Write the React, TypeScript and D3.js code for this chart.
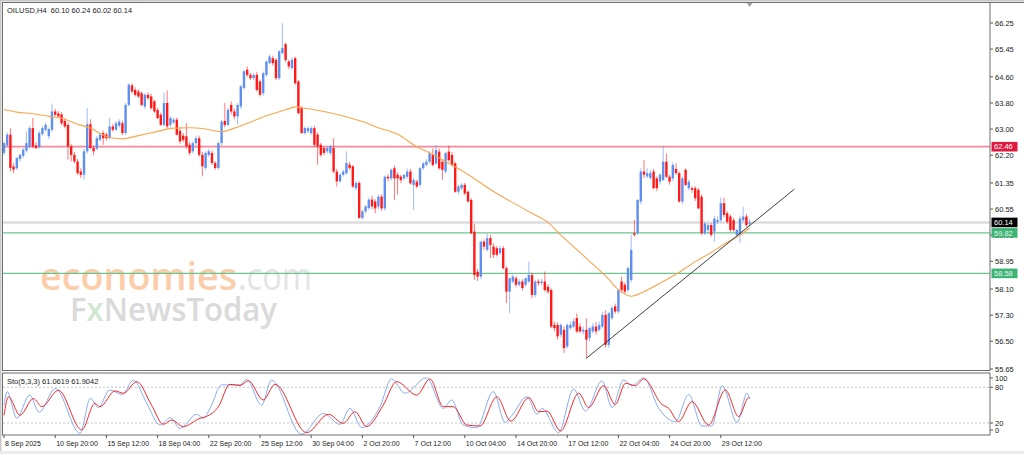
import React, { useEffect, useRef } from "react";
import * as d3 from "d3";

// H4 bars, [open, high, low, close]
const ohlc: [number, number, number, number][] = [
  [62.27, 62.62, 62.2, 62.57], [62.5, 62.9, 62.45, 62.83], [62.83, 63.03, 61.7, 61.81], [61.85, 61.95, 61.65, 61.76],
  [61.8, 62.15, 61.75, 62.11], [62.08, 62.25, 62.0, 62.21], [62.18, 62.42, 62.12, 62.37], [62.34, 62.93, 62.28, 62.57],
  [62.45, 63.1, 62.4, 63.03], [63.03, 63.34, 62.42, 62.47], [62.5, 62.6, 62.38, 62.42], [62.45, 62.95, 62.4, 62.88],
  [62.85, 63.1, 62.8, 63.03], [62.98, 63.2, 62.92, 63.13], [62.78, 63.05, 62.7, 63.0], [62.98, 63.78, 62.9, 63.54],
  [63.54, 63.62, 63.4, 63.44], [63.48, 63.55, 63.35, 63.39], [63.45, 63.52, 63.12, 63.18], [63.25, 63.32, 63.02, 63.08],
  [63.13, 63.2, 62.06, 62.47], [62.47, 62.55, 62.01, 62.21], [62.21, 62.3, 61.95, 62.01], [62.01, 62.08, 61.6, 61.65],
  [61.7, 61.8, 61.5, 61.6], [61.6, 62.4, 61.45, 62.32], [62.32, 63.64, 62.25, 63.15], [63.15, 63.3, 62.38, 62.42],
  [62.42, 62.5, 62.2, 62.32], [62.4, 62.78, 62.35, 62.72], [62.67, 62.88, 62.62, 62.83], [62.88, 62.95, 62.52, 62.72],
  [62.83, 62.9, 62.65, 62.72], [62.72, 63.34, 62.68, 63.08], [63.08, 63.15, 62.92, 62.98], [62.98, 63.25, 62.95, 63.18],
  [63.1, 63.3, 63.05, 63.23], [63.18, 63.25, 62.82, 62.88], [62.88, 63.8, 62.83, 63.74], [63.74, 64.4, 63.7, 64.36],
  [64.34, 64.4, 64.1, 64.15], [64.2, 64.28, 64.0, 64.05], [64.15, 64.22, 63.95, 64.0], [64.1, 64.15, 63.7, 63.74],
  [63.69, 64.1, 63.62, 64.05], [64.05, 64.12, 63.9, 63.95], [64.0, 64.08, 63.6, 63.64], [63.85, 63.9, 63.5, 63.54],
  [63.59, 63.65, 63.3, 63.34], [63.44, 63.5, 63.1, 63.13], [63.13, 64.12, 63.08, 63.8], [63.8, 64.18, 63.02, 63.08],
  [63.13, 63.4, 63.05, 63.34], [63.2, 63.35, 63.15, 63.29], [63.29, 63.35, 62.8, 62.83], [62.95, 63.05, 62.55, 62.62],
  [62.8, 62.88, 62.6, 62.67], [62.78, 63.18, 62.4, 62.47], [62.52, 62.6, 62.2, 62.27], [62.32, 62.62, 62.25, 62.57],
  [62.57, 62.8, 62.5, 62.72], [62.72, 62.8, 62.15, 62.21], [62.21, 62.3, 61.55, 61.86], [61.81, 62.32, 61.75, 62.27],
  [62.21, 62.4, 62.15, 62.32], [62.27, 62.35, 61.9, 61.96], [61.96, 62.02, 61.75, 61.81], [61.81, 62.62, 61.75, 62.57],
  [62.57, 63.28, 62.5, 63.23], [63.25, 63.8, 63.05, 63.13], [63.13, 63.65, 63.08, 63.59], [63.74, 63.85, 63.45, 63.54],
  [63.54, 63.62, 63.3, 63.39], [63.39, 63.8, 63.13, 63.74], [63.69, 64.36, 63.62, 64.31], [64.26, 64.82, 64.2, 64.77],
  [64.82, 64.92, 64.6, 64.66], [64.66, 64.72, 64.5, 64.56], [64.56, 64.72, 64.5, 64.66], [64.66, 64.75, 64.15, 64.2],
  [64.46, 64.52, 64.0, 64.05], [64.1, 64.76, 64.02, 64.71], [64.66, 65.1, 64.6, 65.07], [65.02, 65.28, 64.98, 65.22],
  [65.17, 65.25, 64.95, 65.02], [65.12, 65.18, 64.5, 64.56], [64.56, 65.42, 64.5, 65.38], [65.33, 66.24, 65.28, 65.48],
  [65.6, 65.65, 65.05, 65.12], [65.07, 65.12, 64.85, 64.92], [64.87, 65.2, 64.82, 65.12], [65.17, 65.22, 64.35, 64.41],
  [64.46, 64.5, 63.45, 63.49], [63.64, 63.7, 62.85, 62.88], [62.88, 63.08, 62.83, 63.03], [62.93, 63.08, 62.88, 63.03],
  [62.88, 63.1, 62.82, 63.03], [63.03, 63.1, 62.45, 62.52], [62.83, 62.9, 61.91, 62.47], [62.52, 62.58, 62.15, 62.21],
  [62.42, 62.48, 62.2, 62.27], [62.32, 62.48, 62.25, 62.42], [62.27, 62.52, 62.2, 62.47], [62.42, 62.72, 61.65, 61.7],
  [61.7, 61.78, 61.24, 61.4], [61.4, 61.65, 61.35, 61.6], [61.6, 61.75, 61.55, 61.7], [61.65, 62.32, 61.6, 61.96],
  [61.91, 62.0, 61.75, 61.81], [61.86, 61.9, 61.2, 61.24], [61.19, 61.4, 61.12, 61.35], [61.35, 61.4, 60.25, 60.28],
  [60.28, 60.52, 60.22, 60.48], [60.48, 60.68, 60.42, 60.63], [60.58, 60.9, 60.52, 60.84], [60.84, 60.95, 60.55, 60.63],
  [60.78, 60.85, 60.42, 60.57], [60.63, 61.0, 60.55, 60.93], [60.93, 61.0, 60.5, 60.57], [60.57, 61.58, 60.5, 61.54],
  [61.54, 61.62, 61.4, 61.49], [61.49, 61.8, 61.42, 61.75], [61.8, 61.88, 60.83, 61.49], [61.6, 61.68, 61.0, 61.49],
  [61.54, 61.6, 61.35, 61.44], [61.49, 61.62, 61.42, 61.6], [61.54, 61.8, 61.48, 61.7], [61.7, 61.78, 61.3, 61.34],
  [61.29, 61.5, 60.52, 61.44], [61.39, 61.45, 61.18, 61.24], [61.29, 61.85, 61.22, 61.8], [61.8, 62.0, 61.75, 61.95],
  [61.9, 62.08, 61.85, 62.0], [62.0, 62.32, 61.95, 62.26], [62.21, 62.41, 61.85, 61.9], [61.95, 62.51, 61.9, 62.36],
  [62.31, 62.4, 61.75, 61.8], [62.0, 62.05, 61.44, 61.75], [61.7, 62.3, 61.65, 62.26], [62.31, 62.49, 62.0, 62.05],
  [62.21, 62.3, 61.85, 61.9], [61.95, 62.0, 61.05, 61.08], [61.08, 61.3, 61.0, 61.24], [61.19, 61.35, 61.12, 61.29],
  [61.29, 61.35, 60.98, 61.03], [61.08, 61.12, 60.75, 60.78], [60.83, 60.88, 59.78, 59.81], [59.86, 60.1, 58.38, 58.53],
  [58.63, 58.72, 58.35, 58.48], [58.48, 59.58, 58.4, 59.55], [59.55, 59.62, 59.3, 59.4], [59.3, 59.8, 59.25, 59.66],
  [59.66, 59.76, 59.05, 59.45], [59.4, 59.5, 59.05, 59.15], [59.35, 59.42, 59.1, 59.15], [59.2, 59.42, 59.15, 59.35],
  [59.35, 59.42, 58.7, 58.74], [58.74, 58.8, 57.67, 58.02], [58.02, 58.45, 57.36, 58.43], [58.33, 58.55, 58.28, 58.48],
  [58.43, 58.5, 58.15, 58.23], [58.23, 58.4, 58.18, 58.33], [58.33, 58.4, 58.05, 58.13], [58.23, 58.45, 58.18, 58.43],
  [58.33, 58.94, 58.28, 58.53], [58.53, 58.6, 57.82, 57.92], [57.92, 58.38, 57.85, 58.33], [58.33, 58.4, 58.2, 58.28],
  [58.28, 58.4, 58.22, 58.33], [58.33, 58.64, 58.02, 58.07], [58.17, 58.25, 57.95, 58.02], [58.07, 58.12, 56.9, 56.95],
  [57.0, 57.1, 56.8, 56.9], [57.0, 57.08, 56.55, 56.65], [56.7, 57.05, 56.62, 57.0], [56.85, 56.95, 56.14, 56.29],
  [56.34, 57.05, 56.28, 57.0], [56.9, 57.1, 56.85, 57.0], [56.95, 57.2, 56.9, 57.11], [57.21, 57.35, 56.75, 56.8],
  [56.95, 57.05, 56.75, 56.8], [56.8, 56.95, 56.7, 56.85], [56.85, 57.2, 55.98, 56.55], [56.6, 56.95, 56.5, 56.9],
  [56.8, 57.05, 56.75, 56.95], [56.95, 57.1, 56.7, 56.8], [56.85, 57.1, 56.8, 57.0], [56.95, 57.4, 56.9, 57.31],
  [57.31, 57.45, 56.3, 56.39], [56.39, 57.4, 56.3, 57.36], [57.21, 57.58, 57.15, 57.52], [57.57, 57.65, 57.35, 57.41],
  [57.41, 58.1, 57.35, 58.07], [58.33, 58.48, 57.98, 58.07], [58.23, 58.3, 57.95, 58.02], [58.07, 58.78, 58.0, 58.74],
  [58.38, 59.76, 58.3, 59.3], [59.81, 60.22, 59.7, 59.76], [59.81, 60.85, 59.75, 60.83], [60.78, 61.8, 60.7, 61.7],
  [61.7, 62.05, 61.5, 61.6], [61.55, 61.8, 61.5, 61.65], [61.5, 61.75, 61.45, 61.65], [61.7, 61.78, 61.15, 61.19],
  [61.49, 61.55, 61.1, 61.19], [61.39, 61.65, 61.3, 61.6], [61.44, 62.46, 61.4, 62.0], [62.0, 62.25, 61.5, 61.54],
  [61.54, 61.6, 61.3, 61.39], [61.49, 61.98, 61.4, 61.9], [61.78, 61.95, 61.6, 61.65], [61.65, 61.7, 60.75, 60.78],
  [60.78, 61.55, 60.7, 61.49], [61.75, 61.8, 61.25, 61.29], [61.19, 61.45, 61.12, 61.39], [61.19, 61.25, 61.05, 61.14],
  [61.19, 61.25, 60.8, 60.88], [61.14, 61.2, 60.55, 60.57], [60.93, 61.0, 59.75, 59.81], [59.81, 60.15, 59.75, 60.11],
  [59.91, 60.12, 59.8, 60.06], [60.06, 60.12, 59.7, 59.76], [59.86, 60.35, 59.55, 60.26], [60.16, 60.32, 60.1, 60.21],
  [60.21, 60.9, 60.15, 60.73], [60.73, 60.9, 60.3, 60.37], [60.42, 60.48, 60.1, 60.16], [60.32, 60.38, 59.85, 59.91],
  [60.21, 60.28, 59.85, 59.91], [59.76, 59.95, 59.7, 59.91], [59.76, 60.35, 59.5, 60.26], [60.21, 60.62, 60.15, 60.32],
  [60.32, 60.4, 60.0, 60.06], [60.1, 60.24, 60.02, 60.14],
];

// moving average, [bar, price]
const maPoints: [number, number][] = [
  [0, 63.6], [4, 63.52], [9, 63.47], [14, 63.39], [18, 63.33], [23, 63.15], [27, 63.03], [30, 62.87],
  [33, 62.74], [37, 62.7], [42, 62.8], [48, 62.93], [53, 63.03], [58, 63.04], [62, 63.02], [68, 62.92],
  [72, 63.03], [77, 63.21], [82, 63.41], [88, 63.59], [91, 63.68], [94, 63.64], [100, 63.54], [106, 63.4],
  [112, 63.23], [117, 63.04], [123, 62.84], [129, 62.46], [134, 62.22], [140, 61.9], [146, 61.55], [152, 61.15],
  [158, 60.8], [165, 60.42], [170, 60.14], [174, 59.75], [178, 59.4], [183, 58.95], [188, 58.5], [192, 58.08],
  [196, 57.88], [200, 58.02], [205, 58.28], [210, 58.55], [216, 58.94], [221, 59.22], [225, 59.47], [230, 59.75],
  [233, 59.97],
];

// Sto(5,3,3) main line, [bar, value]
const stochK: [number, number][] = [
  [0, 50], [1, 72.7], [4, 28], [8, 67], [11, 38], [16, 78], [23.75, 2.7], [27, 61.5], [29.5, 46], [33, 75.5],
  [37, 68], [40.4, 92], [44.6, 53], [48.75, 16.7], [52, 29], [55, 11], [60.2, 34.6], [62.3, 28], [64.4, 44.7],
  [68, 84], [73.75, 84], [75.8, 93.4], [80.5, 50], [83.6, 92], [93, 1], [99.8, 36], [105, 17.8], [108.1, 44.7],
  [111.8, 12.2], [117.5, 47.5], [121.1, 94], [125.3, 70], [132, 96], [137.3, 44.7], [139.9, 58.7], [143.5, 16.7],
  [147.7, 12.2], [152.9, 72.7], [156.6, 21], [158.75, 33], [163.4, 64], [166.6, 34.6], [168.1, 44.7],
  [173.3, 3.8], [178, 77], [181.7, 40], [186.9, 90.6], [190, 46], [193.6, 92.3], [196.25, 82.8], [199.9, 96],
  [204.6, 44.7], [209.8, 22.3], [214, 68], [218.1, 15], [221.25, 15], [224.4, 82.8], [229.1, 21], [232.2, 70],
  [233, 61.06],
];

// Sto(5,3,3) signal line, [bar, value]
const stochD: [number, number][] = [
  [0, 33], [1.4, 64], [5, 33], [9.2, 61], [11.8, 47.5], [17, 75], [24.3, 8.3], [28.4, 53], [30, 47.5],
  [34.7, 74], [37.3, 70], [41.5, 89.5], [46.1, 50], [49.8, 17.8], [52.4, 25], [56, 14], [61.25, 28], [63.3, 31],
  [67, 47.5], [70.6, 85], [73.75, 83], [76.35, 91], [81, 58.7], [84.7, 85], [94.6, 3.8], [101.4, 34.6],
  [106, 19.5], [109.7, 39], [113.3, 14], [118.5, 50], [122.7, 89.5], [129, 67], [133.1, 94], [137.3, 47.5],
  [140.4, 47.5], [144.6, 16.7], [148.75, 15], [154, 64], [158.4, 23], [164, 62.6], [167.1, 39], [169.7, 40],
  [173.9, 6.6], [179.6, 70], [182.7, 46], [187.4, 82.8], [191, 51], [194.2, 86.7], [197.3, 82.8], [199.9, 94],
  [205.6, 51.4], [207.7, 44.7], [210.8, 22.3], [215, 55.9], [220.2, 16.7], [225.4, 75.5], [229.6, 30.7],
  [232.7, 62.6], [233, 61.9],
];

const priceTicks = [66.25, 65.45, 64.6, 63.8, 63.0, 62.2, 61.35, 60.55, 59.75, 58.95, 58.1, 57.3, 56.5, 55.65];
const stochTicks = [100, 80, 20, 0];
const stochLevels = [80, 20];
const timeLabels = [
  "8 Sep 2025", "10 Sep 20:00", "15 Sep 12:00", "18 Sep 04:00", "22 Sep 20:00", "25 Sep 12:00",
  "30 Sep 04:00", "2 Oct 20:00", "7 Oct 12:00", "10 Oct 04:00", "14 Oct 20:00", "17 Oct 12:00",
  "22 Oct 04:00", "24 Oct 20:00", "29 Oct 12:00",
];
const timeLabelBars = [0, 16, 32, 48, 64, 80, 96, 112, 128, 144, 160, 176, 192, 208, 224];

const resistance = 62.46;
const supports = [59.82, 58.58];
const lastPrice = 60.14;
// trend line anchors, [bar, price]
const trendLine: [number, number][] = [[182, 55.98], [247, 61.16]];

const W = 1024;
const H = 454;
const left = 3;
const right = 990;
const mainTop = 3;
const mainBottom = 371;
const subTop = 373.5;
const subBottom = 435;
const font = "'Liberation Sans', Arial, sans-serif";
const bull = "#5f8ff0";
const bear = "#ff1a1a";

const App = () => {
  const ref = useRef<SVGSVGElement>(null);

  useEffect(() => {
    document.body.style.margin = "0";
    const svg = d3.select(ref.current);
    svg.selectAll("*").remove();

    const x = d3
      .scaleLinear()
      .domain([0, ohlc.length - 1])
      .range([4, 4 + 3.2 * (ohlc.length - 1)]);
    const y = d3.scaleLinear().domain([55.65, 66.25]).range([369, 23]);
    const ys = d3.scaleLinear().domain([0, 100]).range([434.9, 375.4]);

    svg.append("rect").attr("width", W).attr("height", H).attr("fill", "#ffffff");

    const defs = svg.append("defs");
    defs
      .append("clipPath")
      .attr("id", "mainClip")
      .append("rect")
      .attr("x", left)
      .attr("y", mainTop)
      .attr("width", right - left)
      .attr("height", mainBottom - mainTop);
    defs
      .append("clipPath")
      .attr("id", "subClip")
      .append("rect")
      .attr("x", left)
      .attr("y", subTop)
      .attr("width", right - left)
      .attr("height", subBottom - subTop);

    const main = svg.append("g").attr("clip-path", "url(#mainClip)");

    // watermark
    const wm = main
      .append("g")
      .style("font-family", "'Open Sans', 'Noto Sans', sans-serif")
      .attr("font-weight", 600);
    wm.append("text")
      .attr("x", 40)
      .attr("y", 290)
      .attr("font-size", 38)
      .attr("fill", "#fccdaa")
      .attr("textLength", 197)
      .attr("lengthAdjust", "spacingAndGlyphs")
      .text("economies");
    wm.append("text")
      .attr("x", 238)
      .attr("y", 290)
      .attr("font-size", 38)
      .attr("font-weight", 400)
      .attr("fill", "#e4e4e4")
      .attr("textLength", 74)
      .attr("lengthAdjust", "spacingAndGlyphs")
      .text(".com");
    const fx = wm
      .append("text")
      .attr("x", 70)
      .attr("y", 321)
      .attr("font-size", 32)
      .attr("fill", "#dadada")
      .attr("textLength", 207)
      .attr("lengthAdjust", "spacingAndGlyphs");
    fx.append("tspan").text("F");
    fx.append("tspan").attr("fill", "#d3e6d3").text("x");
    fx.append("tspan").text("NewsToday");

    // horizontal levels
    main
      .append("line")
      .attr("x1", left)
      .attr("x2", right)
      .attr("y1", y(lastPrice))
      .attr("y2", y(lastPrice))
      .attr("stroke", "#dcdcdc")
      .attr("stroke-width", 2.5);
    main
      .append("line")
      .attr("x1", left)
      .attr("x2", right)
      .attr("y1", y(resistance))
      .attr("y2", y(resistance))
      .attr("stroke", "#f3899a")
      .attr("stroke-width", 1.8);
    main
      .selectAll("line.support")
      .data(supports)
      .enter()
      .append("line")
      .attr("class", "support")
      .attr("x1", left)
      .attr("x2", right)
      .attr("y1", (d) => y(d))
      .attr("y2", (d) => y(d))
      .attr("stroke", "#6cc490")
      .attr("stroke-width", 1.4);

    // candles
    const candle = main
      .selectAll("g.candle")
      .data(ohlc)
      .enter()
      .append("g")
      .attr("class", "candle");
    candle
      .append("line")
      .attr("x1", (_d, i) => x(i))
      .attr("x2", (_d, i) => x(i))
      .attr("y1", (d) => y(d[1]))
      .attr("y2", (d) => y(d[2]))
      .attr("stroke", (d) => (d[3] >= d[0] ? bull : bear))
      .attr("stroke-opacity", 0.6)
      .attr("stroke-width", 1);
    candle
      .append("rect")
      .attr("x", (_d, i) => x(i) - 1.2)
      .attr("width", 2.4)
      .attr("y", (d) => y(Math.max(d[0], d[3])))
      .attr("height", (d) => Math.max(1, Math.abs(y(d[0]) - y(d[3]))))
      .attr("fill", (d) => (d[3] >= d[0] ? bull : bear));

    // moving average
    const maLine = d3
      .line<[number, number]>()
      .x((d) => x(d[0]))
      .y((d) => y(d[1]))
      .curve(d3.curveMonotoneX);
    main
      .append("path")
      .attr("d", maLine(maPoints))
      .attr("fill", "none")
      .attr("stroke", "#f9a64c")
      .attr("stroke-width", 1.1);

    // trend line
    main
      .append("line")
      .attr("x1", x(trendLine[0][0]))
      .attr("y1", y(trendLine[0][1]))
      .attr("x2", x(trendLine[1][0]))
      .attr("y2", y(trendLine[1][1]))
      .attr("stroke", "#2a2a2a")
      .attr("stroke-width", 0.9);

    // sub window: stochastic
    const sub = svg.append("g").attr("clip-path", "url(#subClip)");
    sub
      .selectAll("line.lvl")
      .data(stochLevels)
      .enter()
      .append("line")
      .attr("class", "lvl")
      .attr("x1", left)
      .attr("x2", right)
      .attr("y1", (d) => ys(d))
      .attr("y2", (d) => ys(d))
      .attr("stroke", "#c4c4c4")
      .attr("stroke-dasharray", "2,2");
    const stLine = d3
      .line<[number, number]>()
      .x((d) => x(d[0]))
      .y((d) => ys(d[1]))
      .curve(d3.curveMonotoneX);
    sub
      .append("path")
      .attr("d", stLine(stochK))
      .attr("fill", "none")
      .attr("stroke", "#86acf2")
      .attr("stroke-width", 1);
    sub
      .append("path")
      .attr("d", stLine(stochD))
      .attr("fill", "none")
      .attr("stroke", "#f22a2a")
      .attr("stroke-width", 1);

    // frames
    svg.append("rect").attr("x", 0).attr("y", 0).attr("width", W).attr("height", 1.5).attr("fill", "#c8c8c8");
    svg.append("rect").attr("x", 0).attr("y", 0).attr("width", 1.5).attr("height", H).attr("fill", "#c8c8c8");
    svg.append("rect").attr("x", 0).attr("y", 451).attr("width", W).attr("height", 3).attr("fill", "#ececec");
    svg
      .append("line")
      .attr("x1", left - 0.5)
      .attr("x2", W)
      .attr("y1", mainTop - 0.5)
      .attr("y2", mainTop - 0.5)
      .attr("stroke", "#6e6e6e");
    svg
      .append("rect")
      .attr("x", left - 0.5)
      .attr("y", mainTop - 0.5)
      .attr("width", right - left + 0.5)
      .attr("height", mainBottom - mainTop)
      .attr("fill", "none")
      .attr("stroke", "#6e6e6e");
    svg
      .append("rect")
      .attr("x", left - 0.5)
      .attr("y", subTop - 0.5)
      .attr("width", right - left + 0.5)
      .attr("height", subBottom - subTop + 0.5)
      .attr("fill", "none")
      .attr("stroke", "#6e6e6e");
    svg
      .append("path")
      .attr("d", `M${x(ohlc.length - 1) - 3},3 L${x(ohlc.length - 1) + 3},3 L${x(ohlc.length - 1)},7 Z`)
      .attr("fill", "#a8a8a8");

    const txt = svg.append("g").style("font-family", font).attr("fill", "#222");

    // price axis
    priceTicks.forEach((p) => {
      txt
        .append("line")
        .attr("x1", right)
        .attr("x2", right + 3)
        .attr("y1", y(p))
        .attr("y2", y(p))
        .attr("stroke", "#555");
      txt
        .append("text")
        .attr("x", right + 5)
        .attr("y", y(p) + 2.7)
        .attr("font-size", 7.5)
        .text(p.toFixed(2));
    });

    const tag = (p: number, bg: string, fg: string) => {
      txt
        .append("rect")
        .attr("x", right + 1.5)
        .attr("y", y(p) - 4.8)
        .attr("width", 26)
        .attr("height", 9.6)
        .attr("fill", bg);
      txt
        .append("text")
        .attr("x", right + 4)
        .attr("y", y(p) + 2.7)
        .attr("font-size", 7.5)
        .attr("fill", fg)
        .text(p.toFixed(2));
    };
    tag(resistance, "#e2183d", "#ffffff");
    supports.forEach((s) => tag(s, "#3cb474", "#e8f5ec"));
    tag(lastPrice, "#000000", "#ffffff");

    // stochastic axis
    stochTicks.forEach((v) => {
      const ty = Math.min(Math.max(ys(v), subTop + 4.5), subBottom - 5);
      txt
        .append("line")
        .attr("x1", right)
        .attr("x2", right + 3)
        .attr("y1", ty)
        .attr("y2", ty)
        .attr("stroke", "#555");
      txt
        .append("text")
        .attr("x", right + 5)
        .attr("y", ty + 2.7)
        .attr("font-size", 7.5)
        .text(String(v));
    });

    // time axis
    timeLabels.forEach((label, k) => {
      const tx = x(timeLabelBars[k]);
      txt
        .append("line")
        .attr("x1", tx)
        .attr("x2", tx)
        .attr("y1", subBottom)
        .attr("y2", subBottom + 3)
        .attr("stroke", "#555");
      txt
        .append("text")
        .attr("x", tx + 1)
        .attr("y", 446)
        .attr("font-size", 7)
        .text(label);
    });

    // headers
    txt
      .append("text")
      .attr("x", 7)
      .attr("y", 13)
      .attr("font-size", 7.5)
      .attr("xml:space", "preserve")
      .text("OILUSD,H4  60.10 60.24 60.02 60.14");
    txt
      .append("text")
      .attr("x", 7)
      .attr("y", 383.5)
      .attr("font-size", 7.5)
      .text("Sto(5,3,3) 61.0619 61.9042");
  }, []);

  return (
    <svg
      ref={ref}
      width={W}
      height={H}
      style={{ position: "absolute", left: 0, top: 0, display: "block" }}
    />
  );
};

export default App;
